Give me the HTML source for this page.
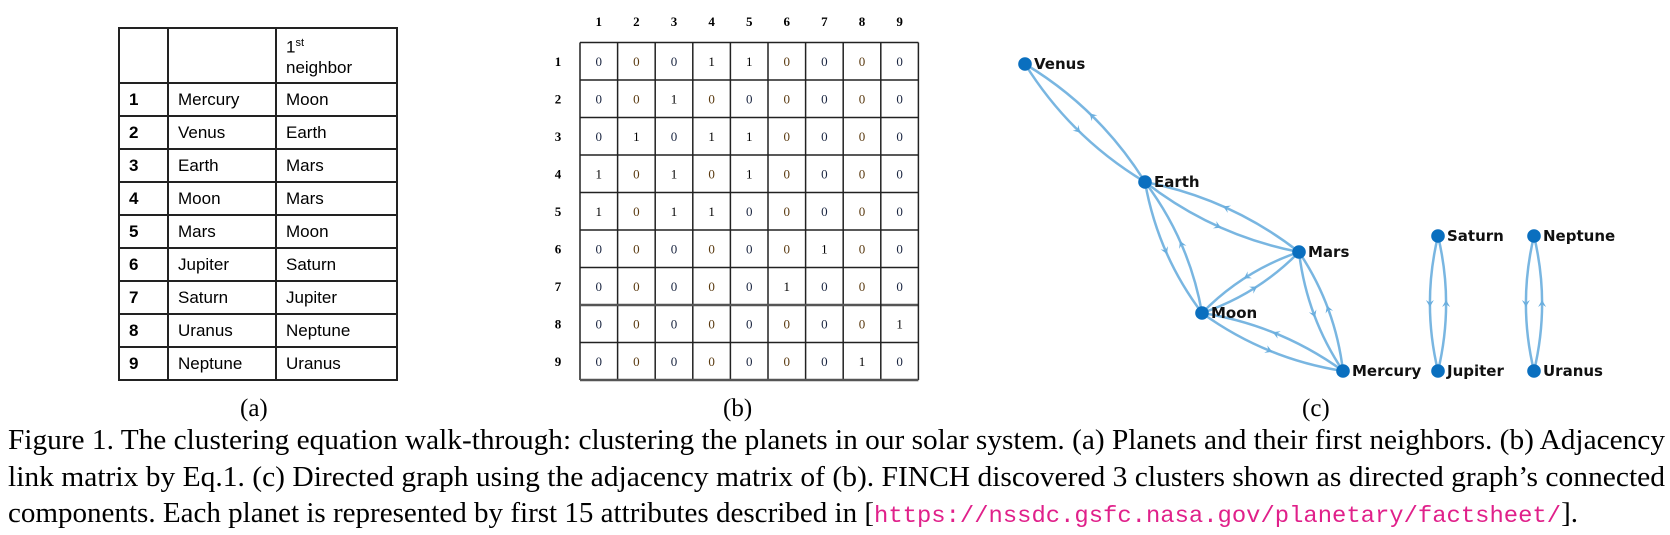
<!DOCTYPE html>
<html><head><meta charset="utf-8">
<style>
html,body{margin:0;padding:0;background:#fff;width:1670px;height:535px;overflow:hidden;position:relative}
#tbl{position:absolute;left:118px;top:27px;border-collapse:collapse;font-family:"Liberation Sans",sans-serif;font-size:17px;color:#000}
#tbl td{border:2px solid #222;padding:0 0 0 9px;vertical-align:middle}
#tbl tr{height:33px}
.lab{position:absolute;font-family:"Liberation Serif",serif;font-size:25px;color:#000}
#cap{position:absolute;left:8px;top:423px;width:1657px;font-family:"Liberation Serif",serif;font-size:28px;line-height:36.5px;color:#000}
#cap div{white-space:nowrap;transform-origin:0 50%}
</style></head><body>
<table id="tbl">
<tr style="height:55px"><td style="width:38px"></td><td style="width:97px"></td><td style="width:110px;line-height:20px">1<sup style="font-size:11px">st</sup><br>neighbor</td></tr>
<tr><td><b>1</b></td><td>Mercury</td><td>Moon</td></tr>
<tr><td><b>2</b></td><td>Venus</td><td>Earth</td></tr>
<tr><td><b>3</b></td><td>Earth</td><td>Mars</td></tr>
<tr><td><b>4</b></td><td>Moon</td><td>Mars</td></tr>
<tr><td><b>5</b></td><td>Mars</td><td>Moon</td></tr>
<tr><td><b>6</b></td><td>Jupiter</td><td>Saturn</td></tr>
<tr><td><b>7</b></td><td>Saturn</td><td>Jupiter</td></tr>
<tr><td><b>8</b></td><td>Uranus</td><td>Neptune</td></tr>
<tr><td><b>9</b></td><td>Neptune</td><td>Uranus</td></tr>
</table>
<div class="lab" style="left:240px;top:395px">(a)</div>
<div class="lab" style="left:723px;top:395px">(b)</div>
<div class="lab" style="left:1302px;top:395px">(c)</div>

<svg id="mat" style="position:absolute;left:0;top:0" width="960" height="400"></svg>
<svg id="graph" style="position:absolute;left:0;top:0" width="1670" height="400"></svg>

<div id="cap">
<div data-w="1657">Figure 1. The clustering equation walk-through: clustering the planets in our solar system. (a) Planets and their first neighbors. (b) Adjacency</div>
<div data-w="1657">link matrix by Eq.1. (c) Directed graph using the adjacency matrix of (b). FINCH discovered 3 clusters shown as directed graph’s connected</div>
<div data-w="1570">components. Each planet is represented by first 15 attributes described in [<span style="font-family:'Liberation Mono',monospace;color:#e0208a;font-size:23px">https://nssdc.gsfc.nasa.gov/planetary/factsheet/</span>].</div>
</div>

<script>
document.querySelectorAll('#cap div').forEach(d=>{
  d.style.display='inline-block';
  const w=d.getBoundingClientRect().width, tw=+d.dataset.w;
  d.style.display='block';
  d.style.transform='scaleX('+(tw/w)+')';
});
const names=["Mercury","Venus","Earth","Moon","Mars","Jupiter","Saturn","Uranus","Neptune"];
const nodeX=[1343,1025,1145,1202,1299,1438,1438,1534,1534];
const nodeY=[371,64,182,313,252,371,236,371,236];
const adj=[
[0,0,0,1,1,0,0,0,0],
[0,0,1,0,0,0,0,0,0],
[0,1,0,1,1,0,0,0,0],
[1,0,1,0,1,0,0,0,0],
[1,0,1,1,0,0,0,0,0],
[0,0,0,0,0,0,1,0,0],
[0,0,0,0,0,1,0,0,0],
[0,0,0,0,0,0,0,0,1],
[0,0,0,0,0,0,0,1,0]];
const NS="http://www.w3.org/2000/svg";
function mk(p,t,a){const e=document.createElementNS(NS,t);for(const k in a)e.setAttribute(k,a[k]);p.appendChild(e);return e;}
const mat=document.getElementById('mat');
const mx0=580,my0=42.5,cw=37.6,ch=37.5,n=9;
for(let i=0;i<n;i++){
  let t=mk(mat,'text',{x:mx0+cw*(i+0.5),y:26,'text-anchor':'middle','font-family':'Liberation Serif,serif','font-size':13,'font-weight':'bold'});
  t.textContent=i+1;
  
  
  let r=mk(mat,'text',{x:558,y:my0+ch*(i+0.5)+4.5,'text-anchor':'middle','font-family':'Liberation Serif,serif','font-size':13,'font-weight':'bold'});
  r.textContent=i+1;
  
  
  for(let j=0;j<n;j++){
    let c=mk(mat,'text',{x:mx0+cw*(j+0.5),y:my0+ch*(i+0.5)+4.5,'text-anchor':'middle','font-family':'Liberation Serif,serif','font-size':13,fill:adj[i][j]?'#000':(j%2?'#5a3a10':'#1a2540')});
    c.textContent=adj[i][j];
    
    
  }
}
for(let k=0;k<=n;k++){
  mk(mat,'line',{x1:mx0+cw*k,y1:my0,x2:mx0+cw*k,y2:my0+ch*n,stroke:'#222','stroke-width':1.5});
  mk(mat,'line',{x1:mx0,y1:my0+ch*k,x2:mx0+cw*n,y2:my0+ch*k,stroke:(k==7||k==9)?'#555':'#222','stroke-width':(k==7||k==9)?2.5:1.5});
}
const g=document.getElementById('graph');
const ec='#6aaede';
for(let i=0;i<n;i++)for(let j=0;j<n;j++){
  if(!adj[i][j]||i===j)continue;
  const ax=nodeX[i],ay=nodeY[i],bx=nodeX[j],by=nodeY[j];
  const dx=bx-ax,dy=by-ay,L=Math.hypot(dx,dy);
  const ux=dx/L,uy=dy/L;
  const px=-uy,py=ux,off=0.12*L;
  const cx=(ax+bx)/2+px*off,cy=(ay+by)/2+py*off;
  const e=mk(g,'path',{d:`M${ax},${ay} Q${cx},${cy} ${bx},${by}`,fill:'none',stroke:ec,'stroke-width':2.5,'stroke-opacity':0.9});
  
  
  const mxp=(ax+bx)/2+px*off/2,myp=(ay+by)/2+py*off/2;
  const s=7,w=4;
  const tip=[mxp+ux*s/2,myp+uy*s/2];
  const bl=[mxp-ux*s/2+px*w,myp-uy*s/2+py*w],br=[mxp-ux*s/2-px*w,myp-uy*s/2-py*w],bm=[mxp-ux*s*0.1,myp-uy*s*0.1];
  const a=mk(g,'polygon',{points:`${tip} ${bl} ${bm} ${br}`,fill:ec});
  
  
}
for(let i=0;i<n;i++){
  const c=mk(g,'circle',{cx:nodeX[i],cy:nodeY[i],r:6.8,fill:'#0a6fbf'});
  
  
  const t=mk(g,'text',{x:nodeX[i]+9,y:nodeY[i]+5,'font-family':'DejaVu Sans,sans-serif','font-size':15,'font-weight':'bold',fill:'#111'});
  t.textContent=names[i];
  
  
}
</script>
</body></html>
